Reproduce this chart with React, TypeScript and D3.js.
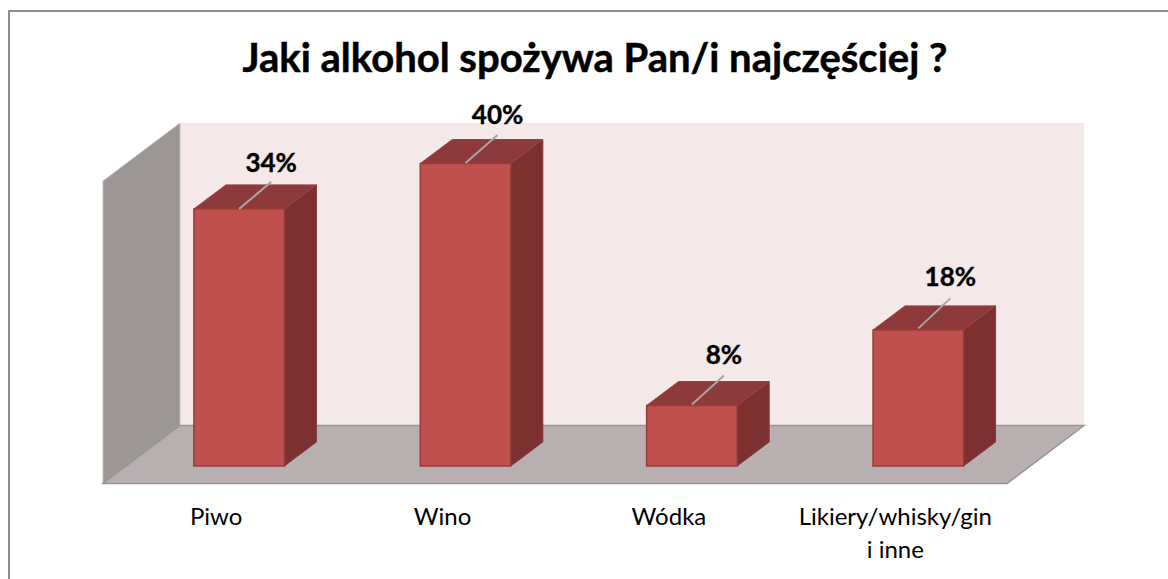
import React, { useEffect, useRef } from 'react';
import * as d3 from 'd3';

const categories = ['Piwo', 'Wino', 'Wódka', 'Likiery/whisky/gin'];
const categoryExtraLines = ['', '', '', 'i inne'];
const values = [34, 40, 8, 18];
const valueLabels = ['34%', '40%', '8%', '18%'];

const WIDTH = 1168;
const HEIGHT = 579;
// offset of the back of the 3d box
const DEPTH_X = 77;
const DEPTH_Y = 58;
const BAR_DX = 32;
const BAR_DY = 24;
const FONT = 'Lato, "Open Sans", sans-serif';

const poly = (pts: number[][]) => d3.line()(pts as [number, number][]) + 'Z';

const App = () => {
  const ref = useRef<SVGSVGElement>(null);

  useEffect(() => {
    const svg = d3.select(ref.current);
    svg.selectAll('*').remove();

    const x0 = 103;
    const x1 = 1007;
    const floorY = 483.5;
    const baseY = 466;

    const x = d3
      .scaleBand()
      .domain(categories)
      .range([x0 + 23, x1 + 24.5])
      .paddingInner(0.6)
      .paddingOuter(0.3);

    const y = d3.scaleLinear().domain([0, 40]).range([baseY, 163.5]);

    // chart frame
    svg
      .append('rect')
      .attr('x', 9)
      .attr('y', 11)
      .attr('width', WIDTH)
      .attr('height', HEIGHT)
      .attr('fill', 'white')
      .attr('stroke', '#8c8c8c')
      .attr('stroke-width', 2);

    svg
      .append('text')
      .attr('x', 595)
      .attr('y', 72)
      .attr('text-anchor', 'middle')
      .attr('font-family', FONT)
      .attr('font-size', 40)
      .attr('font-weight', 700)
      .attr('fill', '#000')
      .attr('stroke', '#000')
      .attr('stroke-width', 0.5)
      .text('Jaki alkohol spożywa Pan/i najczęściej ?');

    // back wall
    svg
      .append('rect')
      .attr('x', x0 + DEPTH_X)
      .attr('y', 123)
      .attr('width', x1 - x0)
      .attr('height', floorY - DEPTH_Y - 123)
      .attr('fill', '#f4e8e8');

    // left wall
    svg
      .append('path')
      .attr(
        'd',
        poly([
          [x0, 181],
          [x0 + DEPTH_X, 123],
          [x0 + DEPTH_X, floorY - DEPTH_Y],
          [x0, floorY],
        ])
      )
      .attr('fill', '#9c9695')
      .attr('stroke', '#c4c0bf')
      .attr('stroke-width', 1);

    // floor
    svg
      .append('path')
      .attr(
        'd',
        poly([
          [x0, floorY],
          [x0 + DEPTH_X, floorY - DEPTH_Y],
          [x1 + DEPTH_X, floorY - DEPTH_Y],
          [x1, floorY],
        ])
      )
      .attr('fill', '#b8b0b0')
      .attr('stroke', '#969696')
      .attr('stroke-width', 1.5);

    const bars = svg
      .selectAll('g.bar')
      .data(categories)
      .enter()
      .append('g')
      .attr('class', 'bar');

    const left = (c: string) => x(c) as number;
    const right = (c: string) => left(c) + x.bandwidth();
    const top = (_: string, i: number) => y(values[i]);

    // side face
    bars
      .append('path')
      .attr('d', (c, i) =>
        poly([
          [right(c), top(c, i)],
          [right(c) + BAR_DX, top(c, i) - BAR_DY],
          [right(c) + BAR_DX, baseY - BAR_DY],
          [right(c), baseY],
        ])
      )
      .attr('fill', '#7c3030')
      .attr('stroke', '#8a3a3a');

    // top face
    bars
      .append('path')
      .attr('d', (c, i) =>
        poly([
          [left(c), top(c, i)],
          [left(c) + BAR_DX, top(c, i) - BAR_DY],
          [right(c) + BAR_DX, top(c, i) - BAR_DY],
          [right(c), top(c, i)],
        ])
      )
      .attr('fill', '#8f3a3a')
      .attr('stroke', '#9a4040');

    // front face
    bars
      .append('rect')
      .attr('x', left)
      .attr('y', top)
      .attr('width', x.bandwidth())
      .attr('height', (c, i) => baseY - top(c, i))
      .attr('fill', '#c0504d')
      .attr('stroke', '#953c3a')
      .attr('stroke-width', 1.5);

    // leader lines
    bars
      .append('line')
      .attr('x1', (c) => left(c) + x.bandwidth() / 2)
      .attr('y1', (c, i) => top(c, i) - i * 0.5)
      .attr('x2', (c) => left(c) + x.bandwidth() / 2 + 32)
      .attr('y2', (c, i) => top(c, i) - 27 - i * 1.5)
      .attr('stroke', '#a6a6a6')
      .attr('stroke-width', 2);

    bars
      .append('text')
      .attr('x', (c) => left(c) + x.bandwidth() / 2 + 32)
      .attr('y', (c, i) => top(c, i) - 37 - i * 2.3)
      .attr('text-anchor', 'middle')
      .attr('font-family', FONT)
      .attr('font-size', 26)
      .attr('font-weight', 700)
      .attr('fill', '#000')
      .attr('stroke', '#000')
      .attr('stroke-width', 0.4)
      .text((_, i) => valueLabels[i]);

    // category labels
    const labels = svg
      .selectAll('text.cat')
      .data(categories)
      .enter()
      .append('text')
      .attr('class', 'cat')
      .attr('text-anchor', 'middle')
      .attr('font-family', FONT)
      .attr('font-size', 24)
      .attr('fill', '#000');

    labels
      .append('tspan')
      .attr('x', (c) => left(c) - 23 + x.bandwidth() / 2)
      .attr('y', 525)
      .text((c) => c);

    labels
      .append('tspan')
      .attr('x', (c) => left(c) - 23 + x.bandwidth() / 2)
      .attr('y', 558)
      .text((_, i) => categoryExtraLines[i]);
  }, []);

  return (
    <svg
      ref={ref}
      width={WIDTH}
      height={HEIGHT}
      style={{ position: 'absolute', left: 0, top: 0 }}
    />
  );
};

export default App;
